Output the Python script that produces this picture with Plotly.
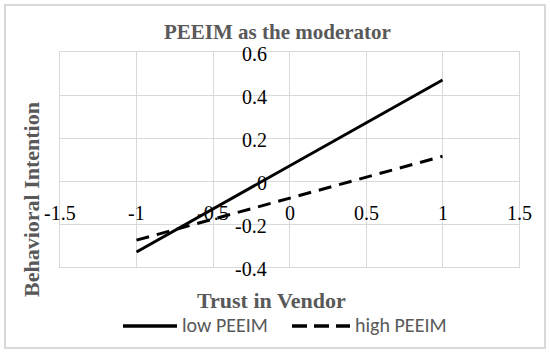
import plotly.graph_objects as go

x_vals = [-1, 1]
low_peeim = [-0.33, 0.47]
high_peeim = [-0.275, 0.115]
series_names = ["low PEEIM", "high PEEIM"]
x_ticks = [-1.5, -1, -0.5, 0, 0.5, 1, 1.5]
x_tick_labels = ["-1.5", "-1", "-0.5", "0", "0.5", "1", "1.5"]
y_ticks = [-0.4, -0.2, 0, 0.2, 0.4, 0.6]
y_tick_labels = ["-0.4", "-0.2", "0", "0.2", "0.4", "0.6"]

SERIF = "Liberation Serif, serif"
SANS = "Carlito, Open Sans, sans-serif"
DASH = "13px,8px"

fig = go.Figure()
fig.add_trace(go.Scatter(x=x_vals, y=low_peeim, mode="lines", name=series_names[0],
                         line=dict(color="black", width=3), showlegend=False))
fig.add_trace(go.Scatter(x=x_vals, y=high_peeim, mode="lines", name=series_names[1],
                         line=dict(color="black", width=3, dash=DASH), showlegend=False))

W, H = 550, 355
L, R, T, B = 60, 31, 52, 88
pw, ph = W - L - R, H - T - B
def px(x): return (x - L) / pw
def py(y): return 1 - (y - T) / ph

annotations = []
for v, t in zip(x_ticks, x_tick_labels):
    annotations.append(dict(x=v, y=0, xref="x", yref="y", text=t, showarrow=False,
                            xanchor="center", yanchor="middle", yshift=-32,
                            font=dict(family=SERIF, size=20, color="black")))
for v, t in zip(y_ticks, y_tick_labels):
    annotations.append(dict(x=0, y=v, xref="x", yref="y", text=t, showarrow=False,
                            xanchor="right", yanchor="middle", xshift=-21, yshift=-2,
                            font=dict(family=SERIF, size=20, color="black")))

# manual legend (Excel style)
legend_y = py(325)
annotations.append(dict(text=series_names[0], x=px(180), y=legend_y, xref="paper", yref="paper",
                        showarrow=False, xanchor="left", yanchor="middle",
                        font=dict(family=SANS, size=20, color="#595959")))
annotations.append(dict(text=series_names[1], x=px(353), y=legend_y, xref="paper", yref="paper",
                        showarrow=False, xanchor="left", yanchor="middle",
                        font=dict(family=SANS, size=20, color="#595959")))
annotations.append(dict(text="<b>PEEIM as the moderator</b>", x=px(277), y=py(32),
                        xref="paper", yref="paper", showarrow=False,
                        xanchor="center", yanchor="middle",
                        font=dict(family=SERIF, size=21, color="#595959")))

shapes = [
    dict(type="rect", xref="paper", yref="paper",
         x0=px(5), x1=px(545), y0=py(348), y1=py(5),
         line=dict(color="#d9d9d9", width=2), layer="below"),
    dict(type="line", xref="paper", yref="paper", x0=px(123), x1=px(177),
         y0=py(326), y1=py(326), line=dict(color="black", width=3.5)),
    dict(type="line", xref="paper", yref="paper", x0=px(292), x1=px(350),
         y0=py(326), y1=py(326), line=dict(color="black", width=3.5, dash="15px,7px")),
]

fig.update_layout(
    width=W, height=H,
    margin=dict(l=L, r=R, t=T, b=B),
    paper_bgcolor="white", plot_bgcolor="white",
    xaxis=dict(range=[-1.5, 1.5], tickvals=x_ticks, showticklabels=False,
               showgrid=True, gridcolor="#d9d9d9", gridwidth=1,
               zeroline=True, zerolinecolor="#d9d9d9", zerolinewidth=1,
               showline=True, linecolor="#d9d9d9", mirror=True, ticks=""),
    yaxis=dict(range=[-0.4, 0.6], tickvals=y_ticks, showticklabels=False,
               showgrid=True, gridcolor="#d9d9d9", gridwidth=1,
               zeroline=True, zerolinecolor="#d9d9d9", zerolinewidth=1,
               showline=True, linecolor="#d9d9d9", mirror=True, ticks=""),
    showlegend=False,
    annotations=annotations + [
        dict(text="<b>Trust in Vendor</b>", x=px(271), y=py(300), xref="paper", yref="paper",
             showarrow=False, xanchor="center", yanchor="middle",
             font=dict(family=SERIF, size=22, color="#595959")),
        dict(text="<b>Behavioral Intention</b>", x=px(31), y=py(200), xref="paper", yref="paper",
             showarrow=False, xanchor="center", yanchor="middle", textangle=-90,
             font=dict(family=SERIF, size=22, color="#595959")),
    ],
    shapes=shapes,
)
fig.write_html("out.html", config={"displayModeBar": False},
               post_script="document.body.style.margin='0';document.body.style.overflow='hidden';")
